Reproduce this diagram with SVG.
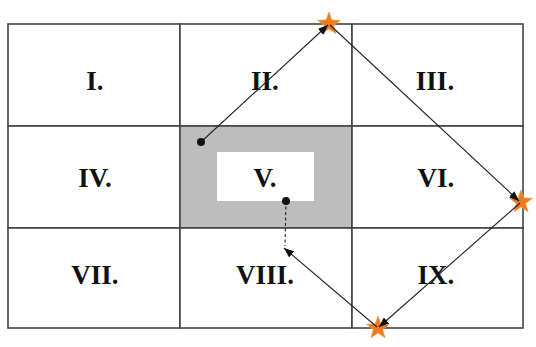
<svg xmlns="http://www.w3.org/2000/svg" width="536" height="347" viewBox="0 0 536 347">
<style>
.cell{fill:#fff;stroke:#444;stroke-width:1.6}
.lbl{font-family:"Liberation Serif","Times New Roman",serif;font-weight:bold;font-size:27px;fill:#111;text-anchor:middle}
.con{stroke:#222;stroke-width:1.1;fill:none}
.star{fill:#EE7A22;stroke:#F4A050;stroke-width:0.8}
</style>
<defs>
<marker id="ah" markerUnits="userSpaceOnUse" markerWidth="10" markerHeight="8" refX="10" refY="4" orient="auto">
<path d="M0,0 L10,4 L0,8 z" fill="#111"/>
</marker>
<polygon id="st" points="0,-12 2.89,-3.97 11.41,-3.71 4.67,1.52 7.05,9.71 0,4.9 -7.05,9.71 -4.67,1.52 -11.41,-3.71 -2.89,-3.97"/>
</defs>
<rect width="536" height="347" fill="#fff"/>
<g id="c1"><rect class="cell" x="8" y="24" width="172" height="102"/><text class="lbl" x="95" y="90">I.</text></g>
<g id="c2"><rect class="cell" x="180" y="24" width="172" height="102"/><text class="lbl" x="265" y="90">II.</text></g>
<g id="c3"><rect class="cell" x="352" y="24" width="171" height="102"/><text class="lbl" x="435" y="90">III.</text></g>
<g id="c4"><rect class="cell" x="8" y="126" width="172" height="102"/><text class="lbl" x="95" y="187">IV.</text></g>
<g id="c5"><rect class="cell" x="180" y="126" width="172" height="102" style="fill:#bdbdbd"/><rect x="217" y="152" width="97" height="49" fill="#fff"/><text class="lbl" x="265" y="187">V.</text></g>
<g id="c6"><rect class="cell" x="352" y="126" width="171" height="102"/><text class="lbl" x="436" y="187">VI.</text></g>
<g id="c7"><rect class="cell" x="8" y="228" width="172" height="100"/><text class="lbl" x="95" y="284">VII.</text></g>
<g id="c8"><rect class="cell" x="180" y="228" width="172" height="100"/><text class="lbl" x="265" y="284">VIII.</text></g>
<g id="c9"><rect class="cell" x="352" y="228" width="171" height="100"/><text class="lbl" x="436" y="284">IX.</text></g>
<g id="stars">
<use href="#st" class="star" x="329" y="24"/>
<use href="#st" class="star" x="521" y="202"/>
<use href="#st" class="star" x="378" y="328"/>
</g>
<g id="connectors">
<line class="con" x1="201" y1="142" x2="328" y2="25" marker-end="url(#ah)"/>
<line class="con" x1="330" y1="25" x2="519" y2="201" marker-end="url(#ah)"/>
<line class="con" x1="520" y1="203" x2="379" y2="327" marker-end="url(#ah)"/>
<line class="con" x1="377" y1="327" x2="284" y2="248" marker-end="url(#ah)"/>
<line class="con" x1="286" y1="201" x2="285" y2="246" stroke-dasharray="3,2.5"/>
<circle cx="201" cy="142" r="4" fill="#111"/>
<circle cx="286" cy="201" r="4" fill="#111"/>
</g>
</svg>
